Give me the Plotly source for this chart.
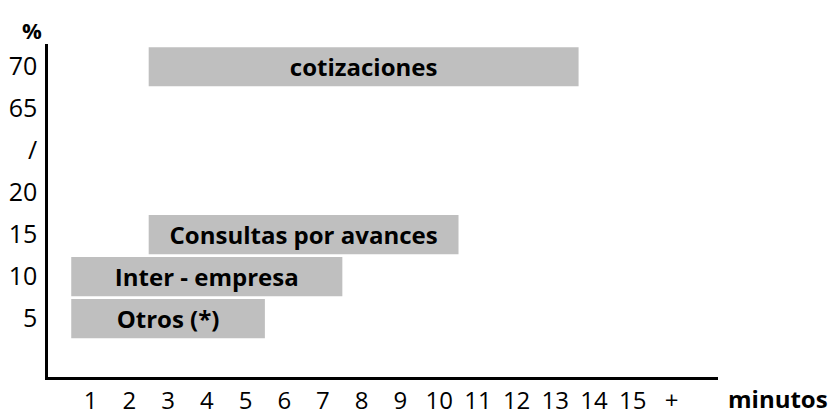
import plotly.graph_objects as go

# ---- data ----
labels = ["Otros (*)", "Inter - empresa", "Consultas por avances", "cotizaciones"]
pct_level = ["5", "10", "15", "70"]
start_min = [0.5, 0.5, 2.5, 2.5]
end_min = [5.5, 7.5, 10.5, 13.6]

y_categories = ["5", "10", "15", "20", "/", "65", "70"]
x_tickvals = list(range(1, 17))
x_ticktext = [str(i) for i in range(1, 16)] + ["+"]

FONT = "Open Sans"
BAR = "#bfbfbf"

durations = [e - s for s, e in zip(start_min, end_min)]

fig = go.Figure()
fig.add_trace(go.Bar(
    orientation="h",
    y=pct_level,
    x=durations,
    base=start_min,
    width=0.93,
    marker=dict(color=BAR, line=dict(width=0)),
    text=[f"<b>{t}</b>" for t in labels],
    textposition="inside",
    insidetextanchor="middle",
    textangle=0,
    textfont=dict(family=FONT, size=24, color="black"),
    hoverinfo="skip",
))

fig.update_layout(
    width=830, height=412,
    margin=dict(l=48, r=112, t=44, b=35),
    paper_bgcolor="white", plot_bgcolor="white",
    showlegend=False,
    font=dict(family=FONT, size=24, color="black"),
    uniformtext=dict(minsize=24, mode="show"),
    xaxis=dict(
        range=[-0.1, 17.2],
        tickvals=x_tickvals, ticktext=x_ticktext,
        showgrid=False, zeroline=False, automargin=False,
        showline=True, linecolor="black", linewidth=2.5,
        ticks="", ticklabelstandoff=0,
        tickfont=dict(family=FONT, size=24, color="black"),
    ),
    yaxis=dict(
        type="category",
        categoryorder="array", categoryarray=y_categories,
        range=[-1.39, 6.54],
        showgrid=False, zeroline=False, automargin=False,
        showline=True, linecolor="black", linewidth=2.5,
        ticks="", ticklabelstandoff=3,
        tickfont=dict(family=FONT, size=25, color="black"),
    ),
    annotations=[
        dict(text="<b>minutos</b>", xref="paper", yref="paper",
             x=1.012, y=-0.066, xanchor="left", yanchor="middle",
             showarrow=False, font=dict(family=FONT, size=24, color="black")),
        dict(text="<b>%</b>", xref="paper", yref="paper",
             x=-0.024, y=1.042, xanchor="center", yanchor="middle",
             showarrow=False, font=dict(family=FONT, size=22, color="black")),
    ],
)

fig.write_html(
    "out.html",
    config={"displayModeBar": False},
    post_script="document.body.style.margin='0';document.body.style.overflow='hidden';",
)
